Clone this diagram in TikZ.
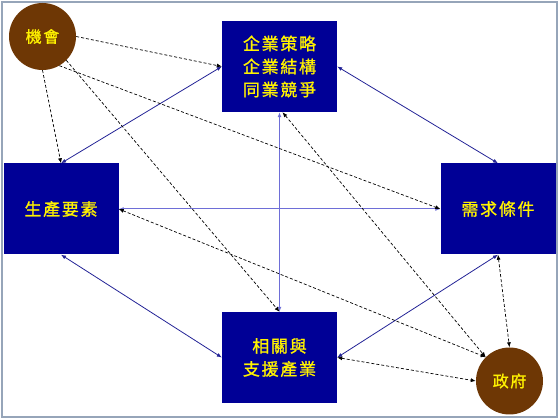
\documentclass[tikz,border=0pt]{standalone}
\usepackage{fontspec}
\newfontfamily\cjk[LetterSpace=10,FakeBold=1]{Noto Sans CJK TC}
\usetikzlibrary{arrows.meta}
\definecolor{boxblue}{RGB}{0,0,150}
\definecolor{linkblue}{RGB}{35,35,150}
\definecolor{axisblue}{RGB}{110,110,215}
\definecolor{earth}{RGB}{110,55,5}
\definecolor{edgegray}{RGB}{150,165,185}

\begin{document}
\begin{tikzpicture}[x=1pt,y=-1pt,
  factor/.style={rectangle,fill=boxblue,minimum width=115pt,minimum height=91pt,
    inner sep=0pt,text=yellow,align=center,font=\cjk\fontsize{17}{23}\selectfont},
  outside/.style={circle,fill=earth,minimum size=67pt,inner sep=0pt,
    text=yellow,font=\cjk\fontsize{16}{18}\selectfont},
  link/.style={{Latex[length=5pt,width=4pt]}-{Latex[length=5pt,width=4pt]},linkblue,line width=0.8pt},
  axis/.style={link,axisblue,line width=1pt},
  hint/.style={-{Latex[length=5pt,width=4pt]},black,line width=0.7pt,dash pattern=on 3pt off 2pt},
  mutual/.style={hint,{Latex[length=5pt,width=4pt]}-{Latex[length=5pt,width=4pt]}}]
  \useasboundingbox (0,0) rectangle (560,419);
  \draw[edgegray,line width=2pt] (2,2) rectangle (557,417);
  \node[factor] (strategy) at (279.5,66.5) {企業策略\\企業結構\\同業競爭};
  \node[factor] (factors) at (61,209) {生產要素};
  \node[factor] (demand) at (498,209) {需求條件};
  \node[factor] (related) at (279.5,357.5) {相關與\\支援產業};
  \node[outside] (chance) at (42.5,36.5) {機會};
  \node[outside] (gov) at (509.5,381) {政府};
  \draw[link] (strategy.west) -- (factors.north);
  \draw[link] (strategy.east) -- (demand.north);
  \draw[link] (factors.south) -- (related.west);
  \draw[link] (related.east) -- (demand.south);
  \draw[axis] (strategy.south) -- (related.north);
  \draw[axis] (factors.east) -- (demand.west);
  \draw[hint] (chance.east) -- (strategy.west);
  \draw[hint] (chance.south) -- (factors.north);
  \draw[hint] (chance.-60) -- (demand.west);
  \draw[hint] (chance.-45) -- (related.north);
  \draw[mutual] ([xshift=3pt]strategy.south) -- (gov.135);
  \draw[mutual] (factors.east) -- (gov.135);
  \draw[mutual] (related.east) -- (gov.west);
  \draw[mutual] (demand.south) -- (gov.north);
\end{tikzpicture}
\end{document}
